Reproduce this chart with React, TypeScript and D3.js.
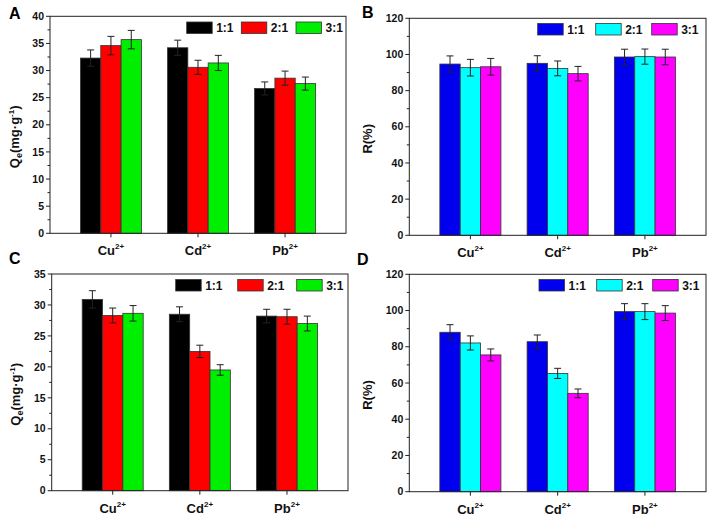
import React from "react";
import * as d3 from "d3";

const categories = ["Cu", "Cd", "Pb"];
const ratioLabels = ["1:1", "2:1", "3:1"];

// Panel A: Qe (mg/g), series per ratio, values per category
const qeA = [
  [32.3, 34.2, 26.7],
  [34.6, 30.6, 28.6],
  [35.7, 31.4, 27.6],
];
const qeAErr = [
  [1.5, 1.4, 1.2],
  [1.7, 1.3, 1.3],
  [1.7, 1.4, 1.2],
];
// Panel B: R (%)
const rB = [
  [94.7, 95.1, 98.6],
  [92.7, 92.3, 98.8],
  [93.2, 89.4, 98.6],
];
const rBErr = [
  [4.5, 4.2, 4.3],
  [4.6, 4.1, 4.2],
  [4.6, 4.0, 4.3],
];
// Panel C: Qe (mg/g)
const qeC = [
  [30.9, 28.5, 28.2],
  [28.3, 22.5, 28.1],
  [28.65, 19.5, 27.0],
];
const qeCErr = [
  [1.4, 1.2, 1.1],
  [1.2, 1.0, 1.2],
  [1.25, 0.85, 1.2],
];
// Panel D: R (%)
const rD = [
  [88.0, 82.8, 99.4],
  [82.1, 65.3, 99.4],
  [75.5, 54.3, 98.6],
];
const rDErr = [
  [4.2, 3.7, 4.4],
  [3.9, 2.8, 4.4],
  [3.3, 2.4, 4.1],
];

const qeTicks = [0, 5, 10, 15, 20, 25, 30, 35, 40];
const qeTicksC = [0, 5, 10, 15, 20, 25, 30, 35];
const rTicks = [0, 20, 40, 60, 80, 100, 120];

const colorsQe = ["#000000", "#ff0000", "#00ee00"];
const colorsR = ["#0000ee", "#00ffff", "#ff00ff"];

const FONT = "'Liberation Sans', Arial, sans-serif";

type PanelProps = {
  letter: string;
  letterX: number;
  letterY: number;
  left: number;
  right: number;
  top: number;
  bottom: number;
  yMax: number;
  ticks: number[];
  minorStep: number;
  values: number[][];
  errors: number[][];
  colors: string[];
  legendX: number[];
  legendY: number;
  yTitle: "qe" | "r";
  titleX: number;
};

function Panel(p: PanelProps) {
  const x = d3.scaleLinear().domain([0.3, 3.7]).range([p.left, p.right]);
  const y = d3.scaleLinear().domain([0, p.yMax]).range([p.bottom, p.top]);
  const bw = x(1.2333) - x(1);
  const minor = d3.range(p.minorStep, p.yMax, p.minorStep).filter(
    (v) => !p.ticks.some((t) => Math.abs(t - v) < 1e-6)
  );
  const titleY = (p.top + p.bottom) / 2 + 12;
  const stroke = "#222";
  return (
    <g>
      <text x={p.letterX} y={p.letterY} fontFamily={FONT} fontWeight="bold" fontSize={16} fill="#000">
        {p.letter}
      </text>
      {/* bars */}
      {p.values.map((series, si) =>
        series.map((v, ci) => {
          const cx = x(ci + 1) + (si - 1) * bw;
          return (
            <rect
              key={`b${si}-${ci}`}
              x={cx - bw / 2}
              y={y(v)}
              width={bw}
              height={y(0) - y(v)}
              fill={p.colors[si]}
              stroke="#333"
              strokeWidth={0.8}
            />
          );
        })
      )}
      {/* error bars */}
      {p.values.map((series, si) =>
        series.map((v, ci) => {
          const cx = x(ci + 1) + (si - 1) * bw;
          const e = p.errors[si][ci];
          const y1 = y(v + e);
          const y2 = y(v - e);
          return (
            <g key={`e${si}-${ci}`} stroke={stroke} strokeWidth={1}>
              <line x1={cx} x2={cx} y1={y1} y2={y2} />
              <line x1={cx - 3.5} x2={cx + 3.5} y1={y1} y2={y1} />
              <line x1={cx - 3.5} x2={cx + 3.5} y1={y2} y2={y2} />
            </g>
          );
        })
      )}
      {/* frame */}
      <rect
        x={p.left}
        y={p.top}
        width={p.right - p.left}
        height={p.bottom - p.top}
        fill="none"
        stroke={stroke}
        strokeWidth={1}
      />
      {/* y ticks */}
      {p.ticks.map((t) => (
        <g key={`t${t}`}>
          <line x1={p.left - 4} x2={p.left} y1={y(t)} y2={y(t)} stroke={stroke} strokeWidth={1} />
          <text
            x={p.left - 6}
            y={y(t)}
            dy="0.35em"
            textAnchor="end"
            fontFamily={FONT}
            fontWeight="bold"
            fontSize={10.5}
            fill="#111"
          >
            {t}
          </text>
        </g>
      ))}
      {minor.map((t) => (
        <line key={`m${t}`} x1={p.left - 2.5} x2={p.left} y1={y(t)} y2={y(t)} stroke={stroke} strokeWidth={1} />
      ))}
      {/* x ticks and labels */}
      {categories.map((c, ci) => (
        <g key={`x${c}`}>
          <line x1={x(ci + 1)} x2={x(ci + 1)} y1={p.bottom} y2={p.bottom + 4} stroke={stroke} strokeWidth={1} />
          <text
            x={x(ci + 1)}
            y={p.bottom + 22}
            textAnchor="middle"
            fontFamily={FONT}
            fontWeight="bold"
            fontSize={13}
            fill="#111"
          >
            {c}
            <tspan fontSize={8} dy={-6}>
              2+
            </tspan>
          </text>
        </g>
      ))}
      {/* y title */}
      <text
        transform={`translate(${p.titleX},${titleY}) rotate(-90)`}
        textAnchor="middle"
        fontFamily={FONT}
        fontWeight="bold"
        fontSize={13}
        fill="#111"
      >
        {p.yTitle === "qe" ? (
          <>
            Q
            <tspan fontSize={9} dy={3}>
              e
            </tspan>
            <tspan dy={-3}>(mg·g</tspan>
            <tspan fontSize={8} dy={-5}>
              -1
            </tspan>
            <tspan dy={5}>)</tspan>
          </>
        ) : (
          "R(%)"
        )}
      </text>
      {/* legend */}
      {ratioLabels.map((lab, i) => (
        <g key={`l${lab}`}>
          <rect
            x={p.legendX[i]}
            y={p.legendY}
            width={25.5}
            height={11.5}
            fill={p.colors[i]}
            stroke="#333"
            strokeWidth={0.8}
          />
          <text
            x={p.legendX[i] + 29.5}
            y={p.legendY + 10}
            fontFamily={FONT}
            fontWeight="bold"
            fontSize={12}
            fill="#111"
          >
            {lab}
          </text>
        </g>
      ))}
    </g>
  );
}

export default function App() {
  return (
    <svg width={709} height={517} style={{ position: "absolute", left: 0, top: 0, background: "#fff" }}>
      <Panel
        letter="A"
        letterX={9}
        letterY={18.5}
        left={50}
        right={346}
        top={16.3}
        bottom={233.3}
        yMax={40}
        ticks={qeTicks}
        minorStep={2.5}
        values={qeA}
        errors={qeAErr}
        colors={colorsQe}
        legendX={[186.7, 241.3, 296]}
        legendY={22}
        yTitle="qe"
        titleX={19}
      />
      <Panel
        letter="B"
        letterX={362}
        letterY={17.5}
        left={409.3}
        right={706}
        top={18.3}
        bottom={235.3}
        yMax={120}
        ticks={rTicks}
        minorStep={10}
        values={rB}
        errors={rBErr}
        colors={colorsR}
        legendX={[537.7, 595.7, 651.7]}
        legendY={23.5}
        yTitle="r"
        titleX={372}
      />
      <Panel
        letter="C"
        letterX={9}
        letterY={264}
        left={51.7}
        right={348}
        top={274}
        bottom={490.7}
        yMax={35}
        ticks={qeTicksC}
        minorStep={2.5}
        values={qeC}
        errors={qeCErr}
        colors={colorsQe}
        legendX={[175.7, 237.7, 296.7]}
        legendY={279.5}
        yTitle="qe"
        titleX={20}
      />
      <Panel
        letter="D"
        letterX={357}
        letterY={264.5}
        left={409.3}
        right={706}
        top={274.3}
        bottom={491.7}
        yMax={120}
        ticks={rTicks}
        minorStep={10}
        values={rD}
        errors={rDErr}
        colors={colorsR}
        legendX={[539, 596.7, 652.7]}
        legendY={279.5}
        yTitle="r"
        titleX={372}
      />
    </svg>
  );
}
